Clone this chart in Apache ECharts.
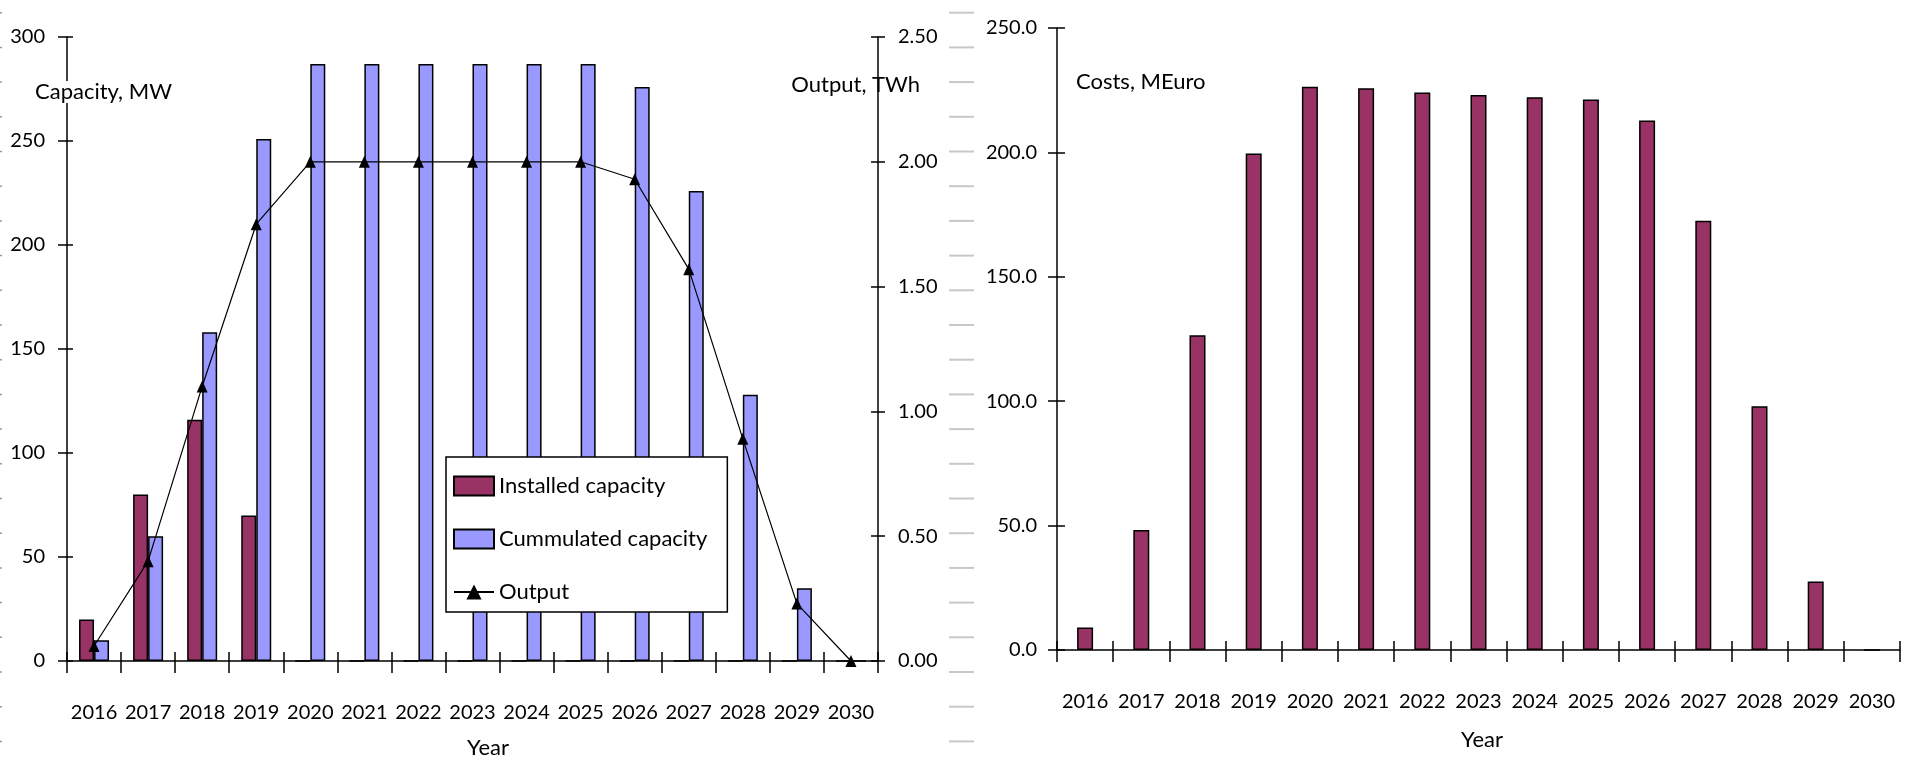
<!DOCTYPE html>
<html>
<head>
<meta charset="utf-8">
<script src="https://cdn.jsdelivr.net/npm/echarts@6/dist/echarts.min.js"></script>
<style>
  html, body { margin: 0; padding: 0; background: #fff; }
  #chart { width: 1905px; height: 760px; }
</style>
</head>
<body>
<div id="chart"></div>
<script>
// Years shared by both panels
const years = ['2016', '2017', '2018', '2019', '2020', '2021', '2022', '2023',
               '2024', '2025', '2026', '2027', '2028', '2029', '2030'];

// Left panel: capacity (MW) and output (TWh)
const installedCapacity = [20, 80, 116, 70, 0, 0, 0, 0, 0, 0, 0, 0, 0, 0, 0];
const cumulatedCapacity = [10, 60, 158, 251, 287, 287, 287, 287, 287, 287, 276, 226, 128, 35, 0];
const outputTWh = [0.06, 0.40, 1.10, 1.75, 2.00, 2.00, 2.00, 2.00, 2.00, 2.00, 1.93, 1.57, 0.89, 0.23, 0.00];

// Right panel: costs (MEuro)
const costsMEuro = [9.0, 48.2, 126.5, 199.6, 226.4, 225.8, 224.1, 223.1, 222.2, 221.3, 212.8, 172.5, 98.0, 27.5, 0];

// Axis ranges
const capacityAxis = { min: 0, max: 300, step: 50 };
const outputAxis = { min: 0, max: 2.5, step: 0.5 };
const costsAxis = { min: 0, max: 250, step: 50 };

const FONT = 'Lato';
const INK = '#000';
const MAROON = '#993366';
const LAVENDER = '#9999FF';

const chart = echarts.init(document.getElementById('chart'), null, { renderer: 'canvas' });

const labelStyle = { color: INK, fontFamily: FONT, fontSize: 20 };
const axisLine = { show: true, lineStyle: { color: INK, width: 1.5 } };

// main category axis + a companion axis that adds the inner half of the cross ticks
function categoryAxes(gridIndex, outLen, inLen) {
  return [
    {
      type: 'category', gridIndex, data: years, position: 'bottom',
      axisLine, axisTick: { show: true, interval: 0, length: outLen, lineStyle: { color: INK, width: 1.5 } },
      axisLabel: Object.assign({ interval: 0, margin: 42 }, labelStyle),
      splitLine: { show: false }
    },
    {
      type: 'category', gridIndex, data: years, position: 'bottom',
      axisLine: { show: false },
      axisTick: { show: true, inside: true, interval: 0, length: inLen, lineStyle: { color: INK, width: 1.5 } },
      axisLabel: { show: false }, splitLine: { show: false }
    }
  ];
}

function valueAxes(gridIndex, position, range, digits, outLen, inLen, margin, z) {
  return [
    {
      type: 'value', gridIndex, position, min: range.min, max: range.max, interval: range.step, z: z || 0,
      axisLine, axisTick: { show: true, length: outLen, lineStyle: { color: INK, width: 1.5 } },
      axisLabel: Object.assign({ margin, formatter: v => v.toFixed(digits) }, labelStyle),
      splitLine: { show: false }
    },
    {
      type: 'value', gridIndex, position, min: range.min, max: range.max, interval: range.step,
      axisLine: { show: false },
      axisTick: { show: true, inside: true, length: inLen, lineStyle: { color: INK, width: 1.5 } },
      axisLabel: { show: false }, splitLine: { show: false }
    }
  ];
}

// light divider dashes between the two panels, plus faint marks at the left edge
const dividerMarks = [];
for (let k = 0; k < 22; k++) {
  const y = 12.7 + k * 34.7;
  dividerMarks.push({
    type: 'line', z: 1, silent: true,
    shape: { x1: 949, y1: y, x2: 974, y2: y },
    style: { stroke: '#c8c8c8', lineWidth: 2 }
  });
  dividerMarks.push({
    type: 'line', z: 1, silent: true,
    shape: { x1: 0, y1: y, x2: 2, y2: y },
    style: { stroke: '#999', lineWidth: 1.5 }
  });
}

function title(text, x, y, align, extra) {
  return Object.assign({
    type: 'text', x, y,
    style: Object.assign({
      text, fill: INK, font: '22px ' + FONT, align, verticalAlign: 'middle'
    }, extra && extra.style)
  }, extra && extra.el);
}

const option = {
  animation: false,
  backgroundColor: '#fff',
  grid: [
    { left: 67, top: 37, width: 811, height: 624 },
    { left: 1057, top: 28, width: 843, height: 622 }
  ],
  legend: {
    orient: 'vertical',
    left: 446, top: 457,
    padding: [18, 20, 9, 7],
    itemWidth: 40, itemHeight: 19, itemGap: 31,
    backgroundColor: '#fff',
    borderColor: INK, borderWidth: 1.5,
    textStyle: { color: INK, fontFamily: FONT, fontSize: 22 },
    data: [
      { name: 'Installed capacity', icon: 'rect' },
      { name: 'Cummulated capacity', icon: 'rect' },
      { name: 'Output' }
    ]
  },
  xAxis: [].concat(categoryAxes(0, 12, 9), categoryAxes(1, 12, 9)),
  yAxis: [].concat(
    valueAxes(0, 'left', capacityAxis, 0, 9, 6, 22),
    valueAxes(0, 'right', outputAxis, 2, 7, 7, 20, 5),
    valueAxes(1, 'left', costsAxis, 1, 9, 8, 20)
  ),
  series: [
    {
      name: 'Installed capacity', type: 'bar', xAxisIndex: 0, yAxisIndex: 0,
      data: installedCapacity, barWidth: 15, barGap: '0%',
      itemStyle: { color: MAROON, borderColor: INK, borderWidth: 1.5 }
    },
    {
      name: 'Cummulated capacity', type: 'bar', xAxisIndex: 0, yAxisIndex: 0,
      data: cumulatedCapacity, barWidth: 15, barGap: '0%',
      itemStyle: { color: LAVENDER, borderColor: INK, borderWidth: 1.5 }
    },
    {
      name: 'Output', type: 'line', xAxisIndex: 0, yAxisIndex: 2, z: 6,
      data: outputTWh,
      symbol: 'triangle', symbolSize: [11, 12],
      itemStyle: { color: INK },
      lineStyle: { color: INK, width: 1.2 }
    },
    {
      name: 'Costs', type: 'bar', xAxisIndex: 2, yAxisIndex: 4,
      data: costsMEuro, barWidth: 16,
      itemStyle: { color: MAROON, borderColor: INK, borderWidth: 1.5 }
    }
  ],
  graphic: [].concat(dividerMarks, [
    title('Capacity, MW', 35, 92, 'left', { style: { backgroundColor: '#fff' }, el: { z: 20 } }),
    title('Output, TWh', 920, 85, 'right', { el: { z: 1 } }),
    title('Costs, MEuro', 1076, 82, 'left'),
    title('Year', 488, 748, 'center'),
    title('Year', 1482, 740, 'center')
  ])
};

chart.setOption(option);
</script>
</body>
</html>
